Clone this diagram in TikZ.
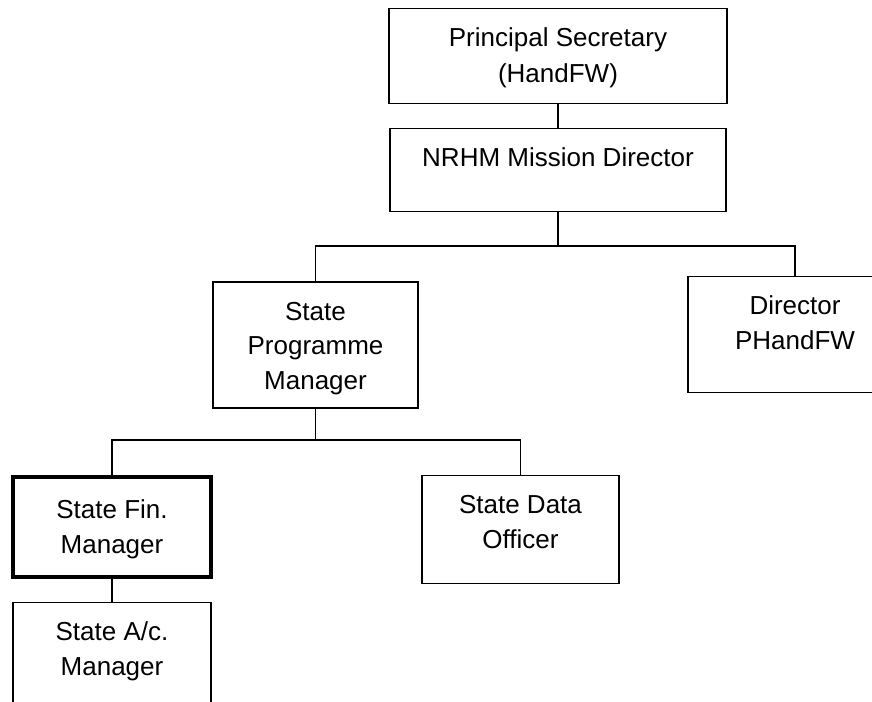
\documentclass[tikz,border=0pt]{standalone}
\usepackage{fontspec}
\setmainfont{Liberation Sans}
\usepackage{tikz}
\usetikzlibrary{positioning}
\tikzset{
  orgbox/.style={draw=black,anchor=north,align=center,inner sep=0pt,line width=1pt,
    font=\fontsize{19.5}{26}\selectfont,text height=54.5pt},
  spmbox/.style={orgbox,line width=1.7pt},
  finbox/.style={orgbox,line width=3.2pt,text height=57pt},
  link/.style={draw=black,line width=1pt},
}

\begin{document}
\begin{tikzpicture}[x=0.75pt,y=-0.75pt]
\clip (0,0) rectangle (872,702);

% ==== top of the chart ====
\node[orgbox,minimum width=253.5pt,text height=55.5pt,text depth=15.75pt,
  font=\fontsize{19.5}{27}\selectfont] (ps) at (558,8)
  {Principal Secretary\\(HandFW)};
\node[orgbox,minimum width=252pt,text height=28.5pt,text depth=33.75pt] (md) at (558,128)
  {NRHM Mission Director};

% ==== second level ====
\node[spmbox,minimum width=153.75pt,text height=80.5pt,text depth=14pt] (spm) at (315.5,281)
  {State\\Programme\\Manager};
\node[orgbox,minimum width=160.5pt,text depth=32.5pt] (dir) at (795,276)
  {Director\\PHandFW};

% ==== third level ====
\node[finbox,minimum width=148pt,text depth=18pt] (fin) at (112,475)
  {State Fin.\\Manager};
\node[orgbox,minimum width=147.75pt,text depth=26.5pt] (dat) at (520.5,475)
  {State Data\\Officer};
\node[orgbox,line width=0.8pt,minimum width=148.5pt,text depth=28pt] (acm) at (112,602)
  {State A/c.\\Manager};

% ==== connectors ====
\draw[link] (ps.south) -- (md.north);
\coordinate (j1) at (558,246);
\draw[link] (md.south) -- (j1);
\draw[link] (spm.north) |- (j1) -| (dir.north);
\coordinate (j2) at (315.5,440);
\draw[link] (spm.south) -- (j2);
\draw[link] (fin.north) |- (j2) -| (dat.north);
\draw[link] (fin.south) -- (acm.north);

\end{tikzpicture}
\end{document}
